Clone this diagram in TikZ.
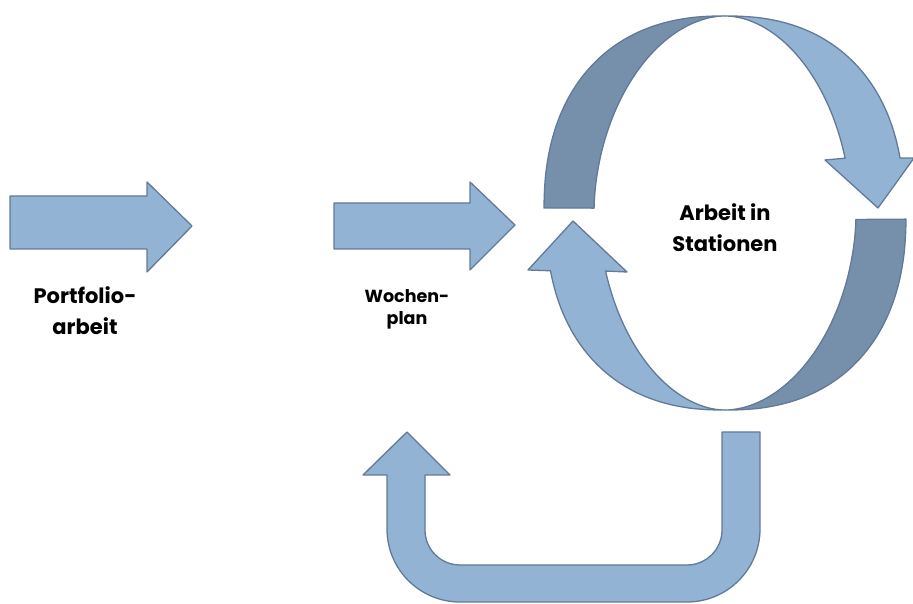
\documentclass[tikz,border=0pt]{standalone}
\usepackage{fontspec}
\setmainfont{Poppins}
\definecolor{bandlight}{RGB}{147,179,213}
\definecolor{banddark}{RGB}{118,143,170}
\definecolor{bandedge}{RGB}{98,122,150}
\tikzset{
  lightpart/.style={fill=bandlight, draw=bandedge, line width=1.3pt, line join=round},
  darkpart/.style={fill=banddark, draw=bandedge, line width=1.3pt, line join=round},
  lbl/.style={font=\bfseries\fontsize{21}{31}\selectfont, align=center, inner sep=0pt},
  lblsmall/.style={font=\bfseries\fontsize{17.5}{22}\selectfont, align=center, inner sep=0pt},
  % rounded-oval edges: superellipse x = a*|cos t|^p, y = b*|sin t|^p
  declare function={
    sx(\t,\p)=sign(cos(\t))*pow(abs(cos(\t))+0.00001,\p);
    sy(\t,\p)=sign(sin(\t))*pow(abs(sin(\t))+0.00001,\p);
  },
  ring/.style={samples=50, smooth, variable=\t}
}
\begin{document}
\begin{tikzpicture}[x=1pt, y=1pt]
\useasboundingbox (0,0) rectangle (913,604);
\def\cx{725}\def\cy{391}
\def\by{197}
\def\po{0.86}\def\pi{1.05}

% straight block arrows
\path[lightpart] (10,408) -- (147,408) -- (147,422) -- (192,378) -- (147,332) -- (147,355) -- (10,355) -- cycle;
\path[lightpart] (334,401) -- (470,401) -- (470,422) -- (515,379) -- (470,334) -- (470,355) -- (334,355) -- cycle;

% upper circular arrow: back half (left) and front half with head (right)
\path[darkpart]
  plot[ring, domain=179.2:90] ({\cx+181*sx(\t,\po)}, {\cy+\by*sy(\t,\po)})
  -- plot[ring, domain=90:178.3] ({\cx+131*sx(\t,\pi)}, {\cy+\by*sy(\t,\pi)})
  -- cycle;
\path[lightpart]
  plot[ring, domain=90:13.1] ({\cx+179*sx(\t,\po)}, {\cy+\by*sy(\t,\po)})
  -- (914,446) -- (878,396) -- (825,444)
  -- plot[ring, domain=17.2:90] ({\cx+126*sx(\t,\pi)}, {\cy+\by*sy(\t,\pi)})
  -- cycle;

% lower circular arrow: back half (right) and front half with head (left)
\path[darkpart]
  plot[ring, domain=-1.0:-90] ({\cx+181*sx(\t,\po)}, {\cy+\by*sy(\t,\po)})
  -- plot[ring, domain=-90:-2.2] ({\cx+131*sx(\t,\pi)}, {\cy+\by*sy(\t,\pi)})
  -- cycle;
\path[lightpart]
  plot[ring, domain=270:193.9] ({\cx+179*sx(\t,\po)}, {\cy+\by*sy(\t,\po)})
  -- (528,334) -- (573,383) -- (627,332)
  -- plot[ring, domain=198.2:270] ({\cx+126*sx(\t,\pi)}, {\cy+\by*sy(\t,\pi)})
  -- cycle;

% return arrow below the cycle
\path[lightpart] (760,172) -- (760,75) arc[start angle=0, end angle=-90, radius=73]
  -- (460,2) arc[start angle=-90, end angle=-180, radius=73]
  -- (387,129) -- (363,129) -- (407,172) -- (450,129) -- (425,129)
  -- (425,74) arc[start angle=180, end angle=270, radius=35]
  -- (687,39) arc[start angle=270, end angle=360, radius=35]
  -- (722,172) -- cycle;

% labels
\node[lbl] (portfolio) at (85,293) {Portfolio-\\arbeit};
\node[lblsmall] (wochenplan) at (407,295) {Wochen-\\plan};
\node[lbl] (stationen) at (725,376.5) {Arbeit in\\Stationen};
\end{tikzpicture}
\end{document}
